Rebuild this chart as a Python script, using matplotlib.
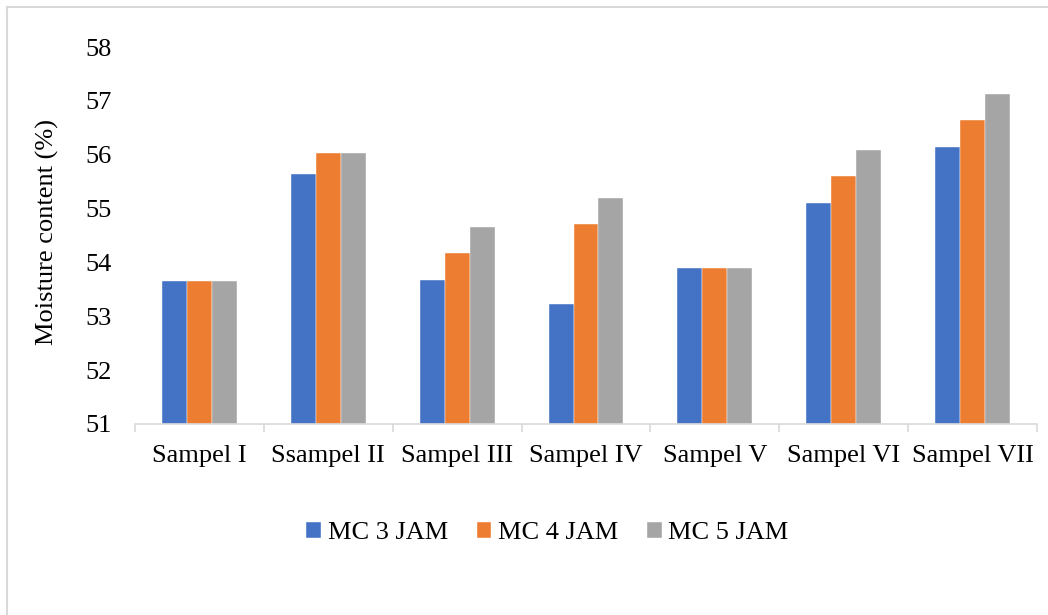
import numpy as np
import matplotlib
matplotlib.use("Agg")
from matplotlib import pyplot as plt
from matplotlib.lines import Line2D

samples = ["Sampel I", "Ssampel II", "Sampel III", "Sampel IV", "Sampel V", "Sampel VI", "Sampel VII"]
mc3 = [53.65, 55.65, 53.67, 53.22, 53.90, 55.11, 56.15]
mc4 = [53.65, 56.04, 54.18, 54.72, 53.90, 55.60, 56.64]
mc5 = [53.65, 56.04, 54.66, 55.20, 53.90, 56.08, 57.12]
series_names = ["MC 3 JAM", "MC 4 JAM", "MC 5 JAM"]
colors = ["#4472C4", "#ED7D31", "#A5A5A5"]

plt.rcParams["font.family"] = ["Liberation Serif", "DejaVu Serif"]
plt.rcParams["font.size"] = 19

fig = plt.figure(figsize=(10.48, 6.15), dpi=100)
W, H = 1048, 615
ax = fig.add_axes([135 / W, 1 - 424 / H, (1037 - 135) / W, (424 - 47) / H])

x = np.arange(len(samples))
bw = 0.194
for i, (vals, name, c) in enumerate(zip([mc3, mc4, mc5], series_names, colors)):
    ax.bar(x + (i - 1) * bw, np.array(vals) - 51, bottom=51, width=bw, color=c,
           label=name, edgecolor="white", linewidth=0.3)

ax.set_xlim(-0.5, len(samples) - 0.5)
ax.set_ylim(51, 58)
ax.set_yticks(range(51, 59))
ax.set_xticks(x)
ax.set_xticklabels(samples)
ax.set_xticks(np.arange(-0.5, len(samples)), minor=True)
ax.tick_params(axis="x", which="major", length=0, pad=15)
ax.tick_params(axis="x", which="minor", length=5.5, width=1.2, color="#D9D9D9")
ax.tick_params(axis="y", length=0, pad=16.5)

for s in ["top", "right", "left"]:
    ax.spines[s].set_visible(False)
ax.spines["bottom"].set_color("#D9D9D9")
ax.spines["bottom"].set_linewidth(1.2)

fig.text(47 / W, 1 - 232 / H, "Moisture content (%)", rotation=90, ha="center", va="center")

ax.legend(loc="center", bbox_to_anchor=(547.5 / W, 1 - 533 / H), bbox_transform=fig.transFigure,
          ncol=3, frameon=False, handlelength=0.55, handleheight=0.55,
          handletextpad=0.25, columnspacing=1.1)

# chart frame (only top and left edges visible)
fig.add_artist(Line2D([7 / W, 1], [1 - 7 / H, 1 - 7 / H], transform=fig.transFigure, color="#D9D9D9", lw=1.5))
fig.add_artist(Line2D([7 / W, 7 / W], [0, 1 - 7 / H], transform=fig.transFigure, color="#D9D9D9", lw=1.5))

fig.savefig("out.png", dpi=100)
